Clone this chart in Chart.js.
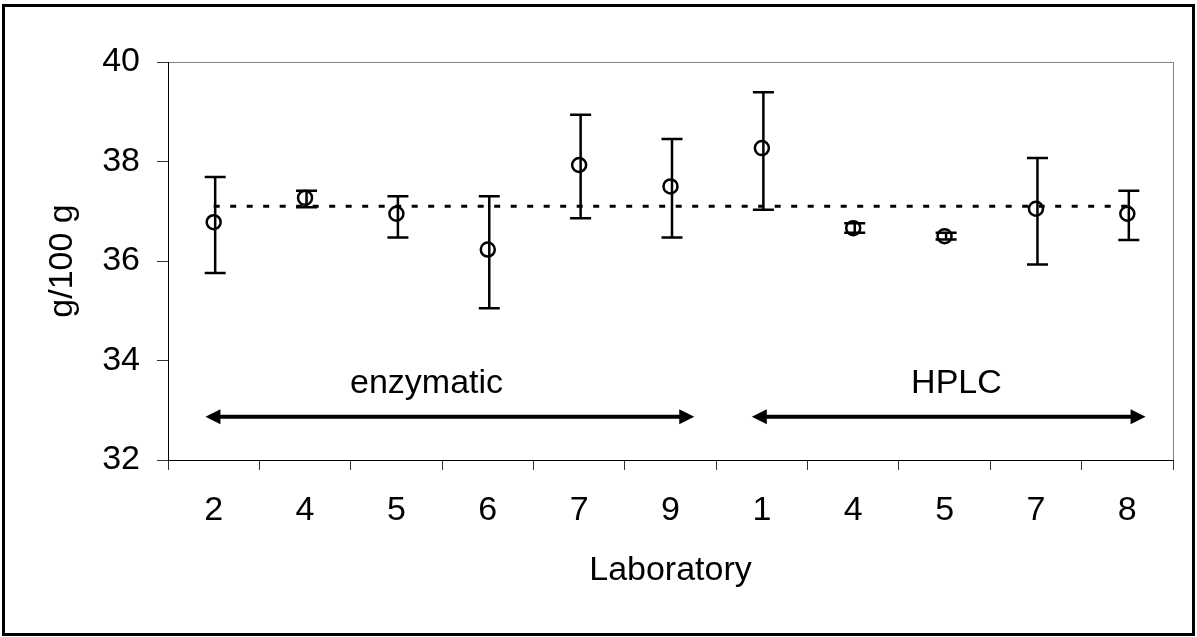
<!DOCTYPE html>
<html>
<head>
<meta charset="utf-8">
<script src="https://cdn.jsdelivr.net/npm/chart.js@4/dist/chart.umd.min.js"></script>
<style>
  html, body { margin: 0; padding: 0; background: #fff; }
  #wrap { width: 1197px; height: 637px; }
</style>
</head>
<body>
<div id="wrap"><canvas id="c" width="1197" height="637"></canvas></div>
<script>
// ---- data ----
const categories = ["2", "4", "5", "6", "7", "9", "1", "4", "5", "7", "8"];
const means      = [36.78, 37.27, 36.95, 36.23, 37.93, 37.50, 38.27, 36.66, 36.50, 37.05, 36.95];
const errLow     = [35.76, 37.08, 36.47, 35.05, 36.86, 36.47, 37.03, 36.57, 36.43, 35.93, 36.42];
const errHigh    = [37.69, 37.41, 37.30, 37.30, 38.94, 38.45, 39.39, 36.76, 36.57, 38.07, 37.41];
const overallMean = [37.1, 37.1, 37.1, 37.1, 37.1, 37.1, 37.1, 37.1, 37.1, 37.1, 37.1];
const yTicks = [32, 34, 36, 38, 40];
const groups = [
  { label: "enzymatic", from: -0.09, to: 5.26, textAt: 2.33 },
  { label: "HPLC",      from: 5.89,  to: 10.2, textAt: 8.13 }
];
const groupArrowY = 32.87;
const groupTextY = 33.35;

const FONT = "'Liberation Sans', Arial, sans-serif";

const decorPlugin = {
  id: 'decor',
  beforeDraw(chart) {
    const ctx = chart.ctx;
    ctx.save();
    ctx.fillStyle = '#fff';
    ctx.fillRect(0, 0, chart.width, chart.height);
    const a = chart.chartArea;
    ctx.strokeStyle = '#808080';
    ctx.lineWidth = 1;
    ctx.strokeRect(a.left + 0.5, a.top + 0.5, a.right - a.left, a.bottom - a.top);
    ctx.restore();
  },
  afterDatasetsDraw(chart) {
    const ctx = chart.ctx;
    const xs = chart.scales.x, ys = chart.scales.y;
    ctx.save();
    // error bars
    ctx.strokeStyle = '#000';
    ctx.lineWidth = 2.5;
    for (let i = 0; i < categories.length; i++) {
      const x = xs.getPixelForValue(i) + 1.5;
      const yl = ys.getPixelForValue(errLow[i]);
      const yh = ys.getPixelForValue(errHigh[i]);
      ctx.beginPath();
      ctx.moveTo(x, yl); ctx.lineTo(x, yh);
      ctx.moveTo(x - 10.5, yl); ctx.lineTo(x + 10.5, yl);
      ctx.moveTo(x - 10.5, yh); ctx.lineTo(x + 10.5, yh);
      ctx.stroke();
    }
    // group arrows and labels
    const ay = ys.getPixelForValue(groupArrowY);
    ctx.fillStyle = '#000';
    ctx.lineWidth = 4;
    groups.forEach(g => {
      const x1 = xs.getPixelForValue(g.from);
      const x2 = xs.getPixelForValue(g.to);
      const head = 15, hh = 7.5;
      ctx.beginPath();
      ctx.moveTo(x1 + head - 2, ay); ctx.lineTo(x2 - head + 2, ay);
      ctx.stroke();
      ctx.beginPath();
      ctx.moveTo(x1, ay); ctx.lineTo(x1 + head, ay - hh); ctx.lineTo(x1 + head, ay + hh); ctx.closePath();
      ctx.fill();
      ctx.beginPath();
      ctx.moveTo(x2, ay); ctx.lineTo(x2 - head, ay - hh); ctx.lineTo(x2 - head, ay + hh); ctx.closePath();
      ctx.fill();
      ctx.font = '34px ' + FONT;
      ctx.textAlign = 'center';
      ctx.textBaseline = 'alphabetic';
      ctx.fillText(g.label, xs.getPixelForValue(g.textAt), ys.getPixelForValue(groupTextY));
    });
    ctx.restore();
  },
  afterDraw(chart) {
    const ctx = chart.ctx;
    ctx.save();
    ctx.strokeStyle = '#000';
    ctx.lineWidth = 3;
    ctx.strokeRect(3.5, 5.5, 1190, 629);
    ctx.restore();
  }
};

new Chart(document.getElementById('c'), {
  type: 'line',
  data: {
    labels: categories,
    datasets: [
      {
        label: 'mean',
        data: means,
        showLine: false,
        pointStyle: 'circle',
        pointRadius: 7,
        pointBorderWidth: 2.5,
        pointBorderColor: '#000',
        pointBackgroundColor: 'rgba(0,0,0,0)',
        order: 1
      },
      {
        label: 'overall',
        data: overallMean,
        borderColor: '#000',
        borderWidth: 3,
        borderDash: [6, 10.5],
        pointRadius: 0,
        fill: false,
        order: 2
      }
    ]
  },
  options: {
    responsive: false,
    animation: false,
    devicePixelRatio: 1,
    layout: { padding: { top: 62, right: 24, left: 0, bottom: 0 } },
    plugins: { legend: { display: false }, tooltip: { enabled: false } },
    scales: {
      x: {
        type: 'category',
        offset: true,
        grid: { display: true, drawOnChartArea: false, offset: true, tickLength: 10, color: '#333', lineWidth: 1 },
        border: { display: true, color: '#000', width: 1 },
        ticks: { color: '#000', font: { family: FONT, size: 34 }, padding: 20, maxRotation: 0, autoSkip: false },
        title: { display: true, text: 'Laboratory', color: '#000', font: { family: FONT, size: 34 }, padding: { top: 0, bottom: 46 } },
        afterFit(s) { s.height = 177; }
      },
      y: {
        min: 32, max: 40,
        afterBuildTicks(s) { s.ticks = yTicks.map(v => ({ value: v })); },
        grid: { display: true, drawOnChartArea: false, tickLength: 11, color: '#333', lineWidth: 1 },
        border: { display: true, color: '#000', width: 1 },
        ticks: { color: '#000', font: { family: FONT, size: 34 }, padding: 17 },
        title: { display: true, text: 'g/100 g', color: '#000', font: { family: FONT, size: 34 }, padding: { top: 42, bottom: 0 } },
        afterFit(s) { s.width = 168; }
      }
    }
  },
  plugins: [decorPlugin]
});
</script>
</body>
</html>
